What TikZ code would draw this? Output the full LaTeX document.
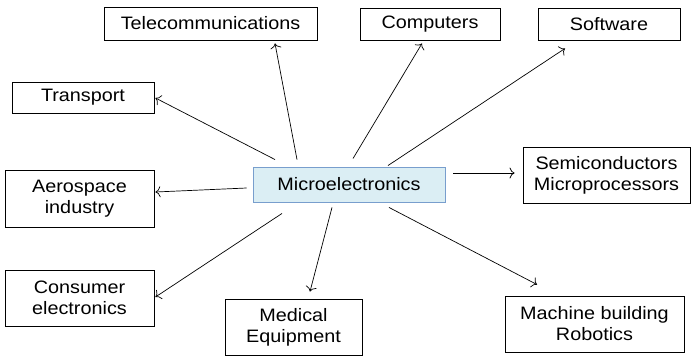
\documentclass[tikz,border=0pt]{standalone}
\usepackage{fontspec}
\setmainfont{Liberation Sans}[FakeStretch=1.1]
\usetikzlibrary{arrows.meta,calc}
\definecolor{corefill}{RGB}{219,238,244}
\definecolor{coreline}{RGB}{120,158,205}
\tikzset{
  box/.style={draw=black, line width=0.9pt, rectangle, inner sep=0pt,
    align=center, font=\fontsize{18}{21}\selectfont},
  corebox/.style={box, fill=corefill, draw=coreline},
  link/.style={line width=0.7pt, -{To[length=5pt,width=11pt]}}
}
\begin{document}
\begin{tikzpicture}[x=1pt,y=-1pt]
  \useasboundingbox (0,0) rectangle (693,356);
  % hub
  \node[corebox, minimum width=192pt, minimum height=35pt] (micro) at (349,184.5) {Microelectronics};
  % application areas
  \node[box, minimum width=213pt, minimum height=33pt] (tele) at (210.5,23.5) {Telecommunications};
  \node[box, minimum width=140pt, minimum height=32pt] (comp) at (430,24) {Computers};
  \node[box, minimum width=142pt, minimum height=32pt] (soft) at (609,24) {Software};
  \node[box, minimum width=142pt, minimum height=31pt] (trans) at (83,97.5) {Transport};
  \node[box, minimum width=149pt, minimum height=57pt] (aero) at (79.5,198.5) {Aerospace\\industry};
  \node[box, minimum width=167pt, minimum height=56pt] (semi) at (606.5,175) {Semiconductors\\Microprocessors};
  \node[box, minimum width=149pt, minimum height=56pt] (cons) at (79.5,298) {Consumer\\electronics};
  \node[box, minimum width=137pt, minimum height=56pt] (med) at (293.5,327) {Medical\\Equipment};
  \node[box, minimum width=179pt, minimum height=56pt] (mach) at (594.5,324) {Machine building\\Robotics};
  % connectors from the hub
  \draw[link] ($(micro.north)+(-52,-7)$) -- ($(tele.south)+(64.5,3)$);
  \draw[link] ($(micro.north)+(-74,-7)$) -- ($(trans.east)+(1,0.5)$);
  \draw[link] ($(micro.north)+(4,-8)$) -- ($(comp.south)+(-8,3)$);
  \draw[link] ($(micro.north)+(39,-1)$) -- ($(soft.south)+(-44,8)$);
  \draw[link] ($(micro.west)+(-6,3.5)$) -- ($(aero.east)+(1,-6.5)$);
  \draw[link] ($(micro.east)+(8,-11.5)$) -- ($(semi.west)+(-8,-2)$);
  \draw[link] ($(micro.south)+(40,5)$) -- ($(mach.north)+(-57.5,-11)$);
  \draw[link] ($(micro.south)+(-17,5)$) -- ($(med.north)+(16.5,-7)$);
  \draw[link] ($(micro.south)+(-67,11)$) -- ($(cons.east)+(1,-1)$);
\end{tikzpicture}
\end{document}
